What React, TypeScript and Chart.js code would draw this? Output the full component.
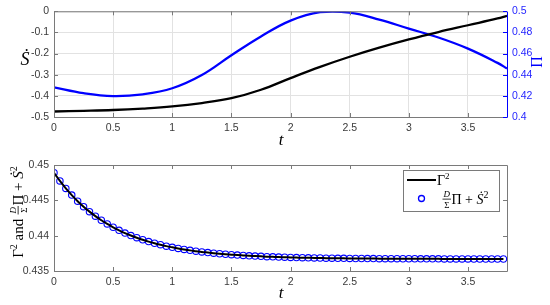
import React, { useEffect, useRef } from "react";
import { Chart, registerables } from "chart.js";
Chart.register(...registerables);

// ---------- data ----------
const tTop = [0, 0.25, 0.5, 0.75, 1, 1.25, 1.5, 1.75, 2, 2.25, 2.5, 2.75, 3, 3.25, 3.5, 3.75, 3.83];
const sDot = [-0.474, -0.471, -0.467, -0.46, -0.45, -0.434, -0.411, -0.371, -0.316, -0.263, -0.215, -0.172, -0.133, -0.098, -0.066, -0.034, -0.021];
const piVals = [0.428, 0.4225, 0.4198, 0.4215, 0.4272, 0.4397, 0.4584, 0.4762, 0.4912, 0.4992, 0.4987, 0.4922, 0.4836, 0.4752, 0.4647, 0.4512, 0.4459];

const tBottom = [
  0, 0.05, 0.1, 0.15, 0.2, 0.25, 0.3, 0.35, 0.4, 0.45, 0.5, 0.55, 0.6, 0.65, 0.7, 0.75, 0.8, 0.85, 0.9, 0.95,
  1, 1.05, 1.1, 1.15, 1.2, 1.25, 1.3, 1.35, 1.4, 1.45, 1.5, 1.55, 1.6, 1.65, 1.7, 1.75, 1.8, 1.85, 1.9, 1.95,
  2, 2.05, 2.1, 2.15, 2.2, 2.25, 2.3, 2.35, 2.4, 2.45, 2.5, 2.55, 2.6, 2.65, 2.7, 2.75, 2.8, 2.85, 2.9, 2.95,
  3, 3.05, 3.1, 3.15, 3.2, 3.25, 3.3, 3.35, 3.4, 3.45, 3.5, 3.55, 3.6, 3.65, 3.7, 3.75, 3.8,
];
const gammaSq = [
  0.4489, 0.44774, 0.44669, 0.44574, 0.44488, 0.4441, 0.4434, 0.44276, 0.44218, 0.44166,
  0.44119, 0.44076, 0.44037, 0.44002, 0.43971, 0.43942, 0.43916, 0.43893, 0.43872, 0.43852,
  0.43835, 0.43819, 0.43805, 0.43792, 0.43781, 0.4377, 0.43761, 0.43752, 0.43744, 0.43737,
  0.43731, 0.43725, 0.4372, 0.43715, 0.43711, 0.43707, 0.43703, 0.437, 0.43697, 0.43695,
  0.43692, 0.4369, 0.43688, 0.43687, 0.43685, 0.43684, 0.43682, 0.43681, 0.4368, 0.43679,
  0.43678, 0.43677, 0.43677, 0.43676, 0.43676, 0.43675, 0.43675, 0.43674, 0.43674, 0.43673,
  0.43673, 0.43673, 0.43672, 0.43672, 0.43672, 0.43672, 0.43671, 0.43671, 0.43671, 0.43671,
  0.43671, 0.4367, 0.4367, 0.4367, 0.4367, 0.4367, 0.4367,
];
const rhsVals = gammaSq; // circles coincide with the curve in the picture

const xTicks = [0, 0.5, 1, 1.5, 2, 2.5, 3, 3.5];
const sDotTicks = [-0.5, -0.4, -0.3, -0.2, -0.1, 0];
const piTicks = [0.4, 0.42, 0.44, 0.46, 0.48, 0.5];
const bottomYTicks = [0.435, 0.44, 0.445, 0.45];

// ---------- style ----------
const BLUE = "#0000ff";
const FRAME = "#7a7a7a";
const GRID = "#e2e2e2";
const TICKCOL = "#3a3a3a";
const tickFont = { family: "'Liberation Sans', Arial, sans-serif", size: 10.5 };
const SERIF = "'Liberation Serif', 'DejaVu Serif', serif";

const fmt = (v: number) => String(Number(Number(v).toFixed(4)));
const setTicks = (arr: number[]) => (s: any) => {
  s.ticks = arr.map((v) => ({ value: v }));
};

type Piece = { t?: string; font?: string; dy?: number; num?: string; den?: string; nfont?: string; dfont?: string };

function pieceWidth(ctx: CanvasRenderingContext2D, p: Piece) {
  if (p.num !== undefined) {
    ctx.font = p.nfont!;
    const a = ctx.measureText(p.num).width;
    ctx.font = p.dfont!;
    const b = ctx.measureText(p.den!).width;
    return Math.max(a, b) + 3;
  }
  ctx.font = p.font!;
  return ctx.measureText(p.t!).width;
}

function drawPieces(ctx: CanvasRenderingContext2D, pieces: Piece[], x: number, y: number, center: boolean) {
  const widths = pieces.map((p) => pieceWidth(ctx, p));
  const total = widths.reduce((a, b) => a + b, 0);
  let cx = center ? x - total / 2 : x;
  ctx.textAlign = "left";
  ctx.textBaseline = "alphabetic";
  pieces.forEach((p, i) => {
    const w = widths[i];
    if (p.num !== undefined) {
      ctx.font = p.nfont!;
      const a = ctx.measureText(p.num).width;
      ctx.fillText(p.num, cx + (w - a) / 2, y - 7);
      ctx.font = p.dfont!;
      const b = ctx.measureText(p.den!).width;
      ctx.fillText(p.den!, cx + (w - b) / 2, y + 3.5);
      ctx.fillRect(cx + 0.5, y - 5.3, w - 1, 0.8);
    } else {
      ctx.font = p.font!;
      ctx.fillText(p.t!, cx, y + (p.dy || 0));
    }
    cx += w;
  });
}

function rhsPieces(size: number): Piece[] {
  const sup = Math.round(size * 0.68);
  return [
    { num: "D", den: "Σ", nfont: `italic 9px ${SERIF}`, dfont: `9px ${SERIF}` },
    { t: "Π + ", font: `${size}px ${SERIF}` },
    { t: "Ṡ", font: `italic ${size}px ${SERIF}` },
    { t: "2", font: `${sup}px ${SERIF}`, dy: -6 },
  ];
}

function drawFrameTicks(chart: any, xScale: any, yScale: any, rightColor: string, rightScale: any) {
  const ctx: CanvasRenderingContext2D = chart.ctx;
  const { left, right, top, bottom } = chart.chartArea;
  const L = 4;
  ctx.save();
  ctx.lineWidth = 1;
  ctx.strokeStyle = FRAME;
  ctx.beginPath();
  ctx.moveTo(left + 0.5, top + 0.5);
  ctx.lineTo(left + 0.5, bottom + 0.5);
  ctx.lineTo(right + 0.5, bottom + 0.5);
  ctx.moveTo(left + 0.5, top + 0.5);
  ctx.lineTo(right + 0.5, top + 0.5);
  xScale.ticks.forEach((t: any) => {
    const px = Math.round(xScale.getPixelForValue(t.value)) + 0.5;
    ctx.moveTo(px, bottom);
    ctx.lineTo(px, bottom - L);
    ctx.moveTo(px, top);
    ctx.lineTo(px, top + L);
  });
  yScale.ticks.forEach((t: any) => {
    const py = Math.round(yScale.getPixelForValue(t.value)) + 0.5;
    ctx.moveTo(left, py);
    ctx.lineTo(left + L, py);
    if (!rightScale) {
      ctx.moveTo(right, py);
      ctx.lineTo(right - L, py);
    }
  });
  ctx.stroke();
  ctx.strokeStyle = rightColor;
  ctx.beginPath();
  ctx.moveTo(right + 0.5, top + 0.5);
  ctx.lineTo(right + 0.5, bottom + 0.5);
  if (rightScale) {
    rightScale.ticks.forEach((t: any) => {
      const py = Math.round(rightScale.getPixelForValue(t.value)) + 0.5;
      ctx.moveTo(right, py);
      ctx.lineTo(right - L, py);
    });
  }
  ctx.stroke();
  ctx.restore();
}

const topDecor = {
  id: "topDecor",
  afterDraw(chart: any) {
    const ctx: CanvasRenderingContext2D = chart.ctx;
    drawFrameTicks(chart, chart.scales.x, chart.scales.y, BLUE, chart.scales.y1);
    ctx.save();
    ctx.fillStyle = "#000";
    ctx.textAlign = "center";
    ctx.textBaseline = "alphabetic";
    ctx.font = `italic 17px ${SERIF}`;
    ctx.fillText("t", 281, 145);
    ctx.font = `italic 18px ${SERIF}`;
    ctx.fillText("Ṡ", 25, 65);
    ctx.translate(542, 62);
    ctx.rotate(-Math.PI / 2);
    ctx.fillStyle = BLUE;
    ctx.font = `16px ${SERIF}`;
    ctx.fillText("Π", 0, 0);
    ctx.restore();
  },
};

const bottomDecor = {
  id: "bottomDecor",
  afterDraw(chart: any) {
    const ctx: CanvasRenderingContext2D = chart.ctx;
    drawFrameTicks(chart, chart.scales.x, chart.scales.y, FRAME, null);
    ctx.save();
    ctx.fillStyle = "#000";
    ctx.textAlign = "center";
    ctx.font = `italic 17px ${SERIF}`;
    ctx.fillText("t", 281, 148);
    // y label
    ctx.save();
    ctx.translate(23, 62);
    ctx.rotate(-Math.PI / 2);
    const yl: Piece[] = [
      { t: "Γ", font: `15px ${SERIF}` },
      { t: "2", font: `10px ${SERIF}`, dy: -6 },
      { t: " and ", font: `15px ${SERIF}` },
      ...rhsPieces(15),
    ];
    drawPieces(ctx, yl, 0, 0, true);
    ctx.restore();
    // legend
    const bx = 403, by = 20, bw = 96, bh = 41;
    ctx.fillStyle = "#fff";
    ctx.fillRect(bx, by, bw, bh);
    ctx.strokeStyle = FRAME;
    ctx.lineWidth = 1;
    ctx.strokeRect(bx + 0.5, by + 0.5, bw, bh);
    ctx.strokeStyle = "#000";
    ctx.lineWidth = 2;
    ctx.beginPath();
    ctx.moveTo(407, 30);
    ctx.lineTo(436, 30);
    ctx.stroke();
    ctx.fillStyle = "#000";
    drawPieces(ctx, [
      { t: "Γ", font: `14px ${SERIF}` },
      { t: "2", font: `9px ${SERIF}`, dy: -6 },
    ], 437, 35, false);
    ctx.strokeStyle = BLUE;
    ctx.lineWidth = 1.3;
    ctx.beginPath();
    ctx.arc(421.5, 48.5, 3, 0, Math.PI * 2);
    ctx.stroke();
    ctx.fillStyle = "#000";
    drawPieces(ctx, rhsPieces(14), 442, 54, false);
    ctx.restore();
  },
};

export default function App() {
  const topRef = useRef<HTMLCanvasElement>(null);
  const botRef = useRef<HTMLCanvasElement>(null);

  useEffect(() => {
    const tickCommon = { font: tickFont, color: TICKCOL, callback: (v: any) => fmt(v) };
    const top = new Chart(topRef.current!, {
      type: "line",
      data: {
        datasets: [
          {
            label: "Ṡ",
            data: tTop.map((t, i) => ({ x: t, y: sDot[i] })),
            borderColor: "#000",
            borderWidth: 2.3,
            pointRadius: 0,
            yAxisID: "y",
            tension: 0.4,
          },
          {
            label: "Π",
            data: tTop.map((t, i) => ({ x: t, y: piVals[i] })),
            borderColor: BLUE,
            borderWidth: 2.3,
            pointRadius: 0,
            yAxisID: "y1",
            tension: 0.4,
          },
        ],
      },
      options: {
        responsive: false,
        animation: false,
        events: [],
        layout: { padding: { top: 9, left: 0, right: 0, bottom: 0 } },
        plugins: { legend: { display: false }, tooltip: { enabled: false } },
        scales: {
          x: {
            type: "linear",
            min: 0,
            max: 3.83,
            afterBuildTicks: setTicks(xTicks),
            afterFit: (s: any) => { s.height = 33; },
            grid: { color: GRID, drawTicks: false },
            border: { display: false },
            ticks: { ...tickCommon, padding: 5, maxRotation: 0 },
          },
          y: {
            position: "left",
            min: -0.5,
            max: 0,
            afterBuildTicks: setTicks(sDotTicks),
            afterFit: (s: any) => { s.width = 54; },
            grid: { color: GRID, drawTicks: false },
            border: { display: false },
            ticks: { ...tickCommon, padding: 5 },
          },
          y1: {
            position: "right",
            min: 0.4,
            max: 0.5,
            afterBuildTicks: setTicks(piTicks),
            afterFit: (s: any) => { s.width = 43; },
            grid: { display: false, drawTicks: false },
            border: { display: false },
            ticks: { ...tickCommon, color: "#1f1fff", padding: 5 },
          },
        },
      },
      plugins: [topDecor],
    } as any);

    const bot = new Chart(botRef.current!, {
      type: "line",
      data: {
        datasets: [
          {
            label: "Γ²",
            data: tBottom.map((t, i) => ({ x: t, y: gammaSq[i] })),
            borderColor: "#000",
            borderWidth: 2,
            pointRadius: 0,
            cubicInterpolationMode: "monotone",
          },
          {
            label: "D/Σ Π + Ṡ²",
            data: tBottom.map((t, i) => ({ x: t, y: rhsVals[i] })),
            showLine: false,
            pointRadius: 3.2,
            pointBorderWidth: 1.1,
            pointBorderColor: BLUE,
            pointBackgroundColor: "rgba(0,0,0,0)",
          },
        ],
      },
      options: {
        responsive: false,
        animation: false,
        events: [],
        layout: { padding: { top: 15, left: 0, right: 43, bottom: 0 } },
        plugins: { legend: { display: false }, tooltip: { enabled: false } },
        scales: {
          x: {
            type: "linear",
            min: 0,
            max: 3.83,
            afterBuildTicks: setTicks(xTicks),
            afterFit: (s: any) => { s.height = 34; },
            grid: { display: false, drawTicks: false },
            border: { display: false },
            ticks: { ...tickCommon, padding: 5, maxRotation: 0 },
          },
          y: {
            min: 0.435,
            max: 0.45,
            afterBuildTicks: setTicks(bottomYTicks),
            afterFit: (s: any) => { s.width = 54; },
            grid: { display: false, drawTicks: false },
            border: { display: false },
            ticks: { ...tickCommon, padding: 5 },
          },
        },
      },
      plugins: [bottomDecor],
    } as any);

    return () => {
      top.destroy();
      bot.destroy();
    };
  }, []);

  return (
    <div style={{ position: "absolute", left: 0, top: 0, width: 550, height: 305, background: "#fff" }}>
      <canvas ref={topRef} width={550} height={150} style={{ position: "absolute", left: 0, top: 0, display: "block" }} />
      <canvas ref={botRef} width={550} height={155} style={{ position: "absolute", left: 0, top: 150, display: "block" }} />
    </div>
  );
}
